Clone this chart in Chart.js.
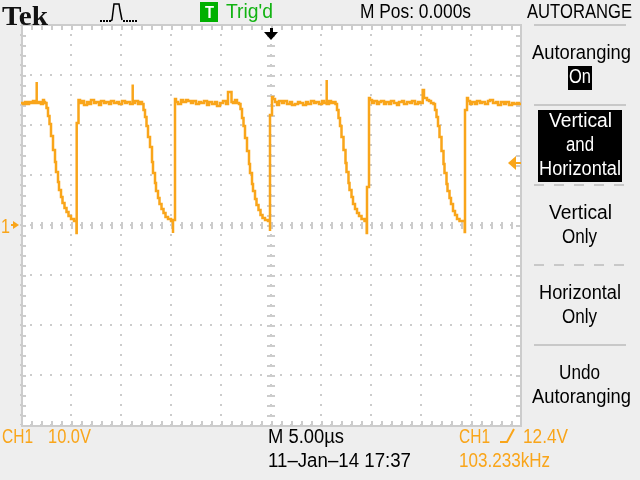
<!DOCTYPE html>
<html>
<head>
<meta charset="utf-8">
<title>Tek AUTORANGE</title>
<script src="https://cdn.jsdelivr.net/npm/chart.js@4/dist/chart.umd.min.js"></script>
<style>
  html, body { margin: 0; background: #eeeeee; }
  #wrap { position: relative; width: 640px; height: 480px; overflow: hidden; }
  canvas { position: absolute; left: 0; top: 0; }
  .lbl { position: absolute; white-space: pre; line-height: 1; transform-origin: 0 0;
         font-family: "Liberation Sans", Arimo, sans-serif; font-size: 20px; color: #000; }
  .box { position: absolute; background: #000; }
  .rule { position: absolute; left: 534px; width: 92px; height: 2px; background: #c8c8c8; }
  .rule.dash { background: repeating-linear-gradient(90deg, #c8c8c8 0 10px, transparent 10px 20px); }
</style>
</head>
<body>
<div id="wrap">
  <canvas id="scope" width="640" height="480"></canvas>
  <div class="box" style="left:568px;top:66px;width:24px;height:24px"></div>
  <div class="box" style="left:538px;top:110px;width:84px;height:72px"></div>
  <div class="box" style="left:200px;top:2px;width:18px;height:20px;background:#00b000"></div>
  <div class="rule" style="top:24px"></div>
  <div class="rule" style="top:104px"></div>
  <div class="rule dash" style="top:184px"></div>
  <div class="rule dash" style="top:264px"></div>
  <div class="rule" style="top:344px"></div>
</div>
<script>
// CH1 trace, one row per edge / flat top. Time in us, level in volts.
const timeUs = [
  -25, -24.8, -24.6, -24.4, -24.2, -24, -23.8, -23.6, -23.43, -23.43, -23.43, -23.2, -23, -22.8, -22.7,
  -22.6, -22.45, -22.3, -22.15, -22, -21.8, -21.6, -21.5, -21.3, -21.2, -21, -20.85, -20.65, -20.45, -20.25, -20, -19.7, -19.45, -19.45, -19.43, -19.25, -19.25,
  -19.1, -18.9, -18.7, -18.4, -18.2, -18, -17.7, -17.5, -17.2, -17, -16.7, -16.5, -16.2, -16, -15.7, -15.4, -15.2, -14.9, -14.6, -14.4, -14.1, -13.83, -13.83, -13.83, -13.6, -13.3, -13.1,
  -12.9, -12.75, -12.6, -12.45, -12.3, -12.1, -11.9, -11.8, -11.6, -11.5, -11.3, -11.15, -10.95, -10.75, -10.55, -10.3, -10, -9.8, -9.8, -9.8, -9.6, -9.6,
  -9.5, -9.3, -9, -8.8, -8.5, -8.3, -8, -7.8, -7.5, -7.2, -7, -6.7, -6.4, -6.2, -5.9, -5.6, -5.4, -5.1, -4.8, -4.5, -4.3, -4.15, -3.95, -3.8, -3.6, -3.4,
  -3.2, -3.05, -2.9, -2.75, -2.6, -2.4, -2.2, -2.1, -1.9, -1.8, -1.6, -1.45, -1.25, -1.05, -0.85, -0.6, -0.3, -0.1, -0.1, -0.1, 0.1, 0.1,
  0.2, 0.4, 0.6, 0.8, 1.1, 1.3, 1.6, 1.9, 2.1, 2.4, 2.7, 2.9, 3.2, 3.5, 3.7, 4, 4.3, 4.5, 4.8, 5.1, 5.3, 5.57, 5.57, 5.57, 5.8, 6, 6.2,
  6.45, 6.6, 6.75, 6.9, 7.05, 7.25, 7.45, 7.55, 7.75, 7.85, 8.05, 8.2, 8.4, 8.6, 8.8, 9.05, 9.35, 9.57, 9.57, 9.6, 9.8, 9.8,
  9.9, 10.1, 10.3, 10.6, 10.8, 11, 11.3, 11.5, 11.8, 12, 12.3, 12.6, 12.8, 13.1, 13.3, 13.6, 13.9, 14.1, 14.4, 14.7, 14.9, 15.17, 15.17, 15.3, 15.6, 15.8, 16,
  16.25, 16.4, 16.55, 16.7, 16.85, 17.05, 17.25, 17.35, 17.55, 17.65, 17.85, 18, 18.2, 18.4, 18.6, 18.85, 19.1, 19.37, 19.37, 19.4, 19.6, 19.6,
  19.7, 19.9, 20.1, 20.4, 20.6, 20.9, 21.1, 21.4, 21.7, 21.9, 22.2, 22.5, 22.7, 23, 23.3, 23.5, 23.8, 24.1, 24.3, 24.6, 24.8, 25
];
const ch1Volts = [
  24.4, 24.2, 24.6, 24.2, 24.6, 24.4, 24.8, 24.4, 24.6, 28.6, 24.4, 24.6, 24.2, 25, 24.6,
  24.4, 23.4, 21.8, 20.2, 17.8, 15, 12.6, 10.6, 8.6, 7, 5.6, 4.4, 3.4, 2.6, 1.8, 1.2, 0.8, 0.5, -1.6, 20.4, 20.4, 25,
  24.4, 24.8, 24, 24.6, 24.2, 25, 24.4, 24.6, 24, 24.8, 24.4, 24.6, 24.2, 24.8, 24.4, 24.6, 24.2, 24.8, 24.4, 24.6, 24.2, 24.6, 28.1, 24.4, 24.8, 24.2, 24.6,
  24.2, 23, 21.6, 19.8, 17.6, 15.6, 12.6, 10.4, 8.4, 6.8, 5.4, 4.2, 3.2, 2.4, 1.6, 1.2, 0.8, 0.6, -1.6, 1, 1.2, 25.2,
  24.6, 24.2, 25, 24.6, 25, 24.8, 24.4, 24.8, 24.2, 24.6, 24.4, 24.8, 24, 24.6, 24.2, 24.6, 23.8, 24.4, 24.8, 24.2, 26.6, 26.6, 24.6, 24.4, 25, 24.4,
  24.2, 23.2, 21.4, 19.8, 17.4, 14.8, 12.2, 10.4, 8.2, 6.8, 5.2, 4, 3, 2, 1.4, 1, 0.8, 0.6, -1.2, 22, 22, 25.6,
  25.2, 24.6, 24, 24.8, 24.4, 24.8, 24.2, 24.6, 24, 24.2, 24.6, 24.4, 24, 24.6, 24.2, 24.8, 24.4, 24.6, 24.2, 24.8, 24.4, 24.4, 29, 24.2, 24.8, 24.4, 24.6,
  24.2, 23, 21.4, 19.8, 17.6, 15, 12.4, 10.6, 8.4, 7, 5.6, 4.2, 3.2, 2.4, 1.8, 1.2, 0.8, 0.5, -1.6, 7.6, 7.6, 25.4,
  25, 24.4, 24.8, 24.2, 24.6, 24.8, 24.2, 24.6, 24.2, 24.8, 24.4, 24, 24.6, 24.8, 24.2, 24.6, 24.4, 24.8, 24.2, 24.6, 24.4, 24.8, 27, 25.4, 25, 24.8, 24.4,
  24.2, 23, 21.6, 19.8, 17.6, 14.8, 12.2, 10.4, 8.2, 6.8, 5.4, 4.2, 2.8, 2, 1.2, 0.8, 0.8, 0.6, -1.4, 23, 23, 25.4,
  24.8, 24.2, 24.6, 24.2, 24.8, 24.4, 24.6, 24.2, 24.8, 25, 24.4, 24.6, 24, 24.6, 24.2, 24.6, 24, 24.4, 24.2, 24.4, 24.2, 24.4
];
const triggerVolts = 12.4;
const groundVolts = 0;
const triggerTimeUs = 0;

const ORANGE = '#f9a51a';
const GRATICULE = '#cccccc';

// text, left, top, width (label is squeezed to it), colour
const labels = [
  ['M Pos: 0.000s', 360, 1, 111], ['AUTORANGE', 527, 1, 105],
  ['Autoranging', 532, 42, 99], ['On', 569, 66, 22, '#fff'],
  ['Vertical', 549, 110, 63, '#fff'], ['and', 566, 134, 28, '#fff'], ['Horizontal', 539, 158, 82, '#fff'],
  ['Vertical', 549, 202, 63], ['Only', 562, 226, 35],
  ['Horizontal', 539, 282, 82], ['Only', 562, 306, 35],
  ['Undo', 559, 362, 41], ['Autoranging', 532, 386, 99],
  ['Trig\'d', 226, 1, 47, '#12b312'],
  ['CH1', 2, 426, 31, ORANGE], ['10.0V', 48, 426, 43, ORANGE],
  ['M 5.00\u00b5s', 268, 426, 76],
  ['11\u2013Jan\u201314 17:37', 268, 450, 143],
  ['CH1', 459, 426, 31, ORANGE], ['12.4V', 523, 426, 45, ORANGE],
  ['103.233kHz', 459, 450, 91, ORANGE],
  ['1', 1, 216, 9, ORANGE],
];

const wrap = document.getElementById('wrap');
function addLabel(text, left, top, width, color, font) {
  const el = document.createElement('div');
  el.className = 'lbl';
  el.textContent = text;
  el.style.left = left + 'px';
  el.style.top = top + 'px';
  if (color) el.style.color = color;
  if (font) el.style.font = font;
  wrap.appendChild(el);
  el.style.transform = `scaleX(${width / el.getBoundingClientRect().width})`;
}
labels.forEach(l => addLabel(...l));
addLabel('Tek', 2, 0, 46, '#111', 'bold 28px "Liberation Serif", serif');
addLabel('T', 205, 4, 9, '#fff', 'bold 16px "Liberation Sans", sans-serif');

function triangle(ctx, pts, color) {
  ctx.fillStyle = color;
  ctx.beginPath();
  pts.forEach(([x, y], i) => i ? ctx.lineTo(x, y) : ctx.moveTo(x, y));
  ctx.closePath();
  ctx.fill();
}

// Edge and centre ticks, one every fifth of a division, like the Tek graticule
const graticule = {
  id: 'graticule',
  beforeDatasetsDraw(chart) {
    const { ctx, chartArea: a, scales: { x, y } } = chart;
    ctx.save();
    ctx.fillStyle = GRATICULE;
    ctx.fillRect(a.left, a.top, 2, a.bottom - a.top + 1);
    ctx.fillRect(a.right - 1, a.top, 2, a.bottom - a.top + 1);
    ctx.fillRect(a.left, a.top - 1, a.right - a.left + 1, 2);
    ctx.fillRect(a.left, a.bottom, a.right - a.left + 1, 2);
    for (let t = -24; t < 25; t++) {
      const px = Math.round(x.getPixelForValue(t));
      ctx.fillRect(px, a.top, 2, 5);
      ctx.fillRect(px, a.bottom - 4, 2, 5);
      ctx.fillRect(px, y.getPixelForValue(0) - 3, 2, 7);
    }
    for (let v = -38; v < 40; v += 2) {
      const py = Math.round(y.getPixelForValue(v));
      ctx.fillRect(a.left, py, 5, 2);
      ctx.fillRect(a.right - 5, py, 5, 2);
      ctx.fillRect(x.getPixelForValue(0) - 4, py, 8, 2);
    }
    ctx.restore();
  },
  afterDatasetsDraw(chart) {
    const { ctx, chartArea: a, scales: { x, y } } = chart;
    ctx.save();
    // trigger position
    const tx = Math.round(x.getPixelForValue(triggerTimeUs));
    triangle(ctx, [[tx - 7, 32], [tx + 7, 32], [tx, 40]], '#000');
    ctx.fillStyle = '#000';
    ctx.fillRect(tx - 1, 28, 3, 6);
    // trigger level and ch1 ground markers
    const ty = Math.round(y.getPixelForValue(triggerVolts));
    triangle(ctx, [[a.right - 13, ty], [a.right - 5, ty - 7], [a.right - 5, ty + 7]], ORANGE);
    ctx.fillStyle = ORANGE;
    ctx.fillRect(a.right - 6, ty - 1, 6, 2);
    const gy = Math.round(y.getPixelForValue(groundVolts));
    triangle(ctx, [[a.left - 2, gy], [a.left - 8, gy - 4], [a.left - 8, gy + 4]], ORANGE);
    ctx.fillRect(a.left - 10, gy - 1, 4, 2);
    // acquisition icon in the header
    ctx.fillStyle = '#000';
    for (let i = 0; i < 4; i++) ctx.fillRect(100 + i * 3, 20, 2, 2);
    for (let i = 0; i < 5; i++) ctx.fillRect(123 + i * 3, 20, 2, 2);
    ctx.strokeStyle = '#000';
    ctx.lineWidth = 1.5;
    ctx.beginPath();
    ctx.moveTo(110, 21); ctx.lineTo(112, 20); ctx.lineTo(114, 4); ctx.lineTo(119, 4); ctx.lineTo(120, 10);
    ctx.lineTo(122, 20);
    ctx.stroke();
    // trigger slope glyph in the status line
    ctx.strokeStyle = ORANGE;
    ctx.lineWidth = 2;
    ctx.beginPath();
    ctx.moveTo(500, 442); ctx.lineTo(507, 442); ctx.lineTo(514, 429);
    ctx.stroke();
    ctx.restore();
  },
};

const whiteScreen = {
  id: 'whiteScreen',
  beforeDraw(chart) {
    const { ctx, chartArea: a } = chart;
    ctx.save();
    ctx.fillStyle = '#fff';
    ctx.fillRect(a.left, a.top, a.right - a.left, a.bottom - a.top);
    ctx.restore();
  },
};

const dottedGrid = { color: GRATICULE, drawTicks: false, lineWidth: 2 };

new Chart(document.getElementById('scope'), {
  type: 'scatter',
  data: {
    datasets: [{
      label: 'CH1',
      data: timeUs.map((t, i) => ({ x: t, y: ch1Volts[i] })),
      showLine: true,
      stepped: true,
      borderColor: ORANGE,
      borderWidth: 2.5,
      pointRadius: 0,
    }],
  },
  options: {
    responsive: false,
    animation: false,
    layout: { padding: { left: 21, top: 25, right: 119, bottom: 55 } },
    plugins: { legend: { display: false }, tooltip: { enabled: false } },
    scales: {
      x: {
        type: 'linear', min: -25, max: 25,
        ticks: { display: false, stepSize: 5 },
        grid: dottedGrid,
        border: { display: false, dash: [2, 8], dashOffset: 1 },
      },
      y: {
        type: 'linear', min: -40, max: 40,
        ticks: { display: false, stepSize: 10 },
        grid: dottedGrid,
        border: { display: false, dash: [2, 8], dashOffset: 1 },
      },
    },
  },
  plugins: [whiteScreen, graticule],
});
</script>
</body>
</html>
